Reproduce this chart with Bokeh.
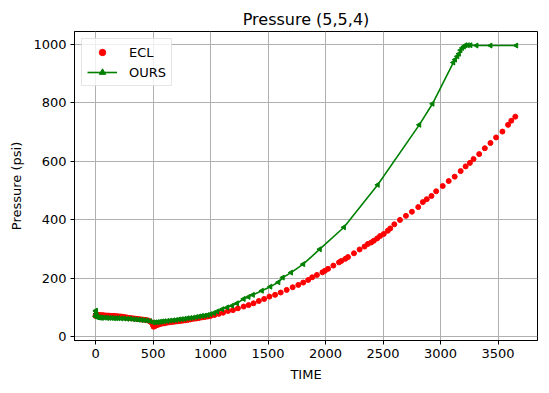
from bokeh.plotting import figure
from bokeh.models import Range1d, FixedTicker, Legend, LegendItem
from bokeh.embed import file_html
from bokeh.resources import INLINE

# ECL (reference simulator) samples
ecl_time = [0, 3, 6, 10, 15, 20, 30, 40, 50, 60, 70, 80, 90, 100, 115, 130, 145, 160, 175, 190,
            205, 220, 235, 250, 265, 280, 300, 320, 340, 360, 380, 400, 420, 440, 460, 475, 490,
            500, 505, 515, 530, 545, 560, 580, 600, 620, 640, 660, 680, 700, 720, 740, 760, 780,
            800, 825, 850, 875, 900, 925, 950, 975,
            1000, 1034, 1072, 1109, 1152, 1195, 1238, 1288, 1331, 1374, 1420, 1466, 1512, 1561,
            1610, 1662, 1714, 1763, 1806, 1849, 1884, 1925, 1973, 1994, 2022, 2068, 2117, 2137,
            2172, 2195, 2247, 2296, 2339, 2368, 2397, 2420, 2449, 2474, 2506, 2541, 2563, 2598,
            2647, 2699, 2751, 2806, 2846, 2880, 2921, 2962, 3019, 3071, 3123, 3175, 3218, 3255,
            3287, 3336, 3385, 3434, 3483, 3538, 3587, 3615, 3650]
ecl_pressure = [72, 76, 77, 76, 75, 75, 75, 74, 74, 74, 74, 73, 73, 73, 73, 72, 72, 72, 71, 71,
                70, 70, 69, 68, 67, 66, 65, 64, 63, 62, 61, 60, 59, 58, 56, 53, 48,
                40, 35, 37, 40, 42, 44, 46, 47, 49, 50, 51, 52, 53, 54, 55, 56, 57,
                58, 60, 62, 63, 65, 67, 68, 70,
                72, 75, 79, 83, 89, 92, 98, 104, 109, 115, 123, 130, 138, 144,
                152, 161, 170, 178, 186, 195, 204, 212, 221, 226, 233, 244, 255, 260,
                267, 273, 286, 299, 309, 318, 323, 329, 337, 345, 352, 363, 371, 385,
                400, 414, 428, 444, 461, 471, 482, 498, 516, 533, 548, 567, 583, 595,
                608, 625, 645, 663, 682, 702, 725, 739, 753]

# OURS samples
ours_time = [0, 2, 4, 6, 8, 10, 15, 20, 30, 40, 50, 60, 80, 100, 120, 140, 160, 180, 200, 225,
             250, 275, 300, 325, 350, 375, 400, 425, 450, 475, 500, 520, 540, 560, 580, 600,
             625, 650, 675, 700, 725, 750, 775, 800, 825, 850, 875, 900, 925, 950, 975, 1000,
             1030, 1057, 1101, 1144, 1187, 1230, 1288, 1330, 1368, 1446, 1520, 1590, 1628, 1700,
             1806, 1950, 2160, 2454, 2815, 2930, 3111, 3126, 3146, 3160, 3174, 3189, 3203, 3217,
             3237, 3260, 3312, 3434, 3658]
ours_pressure = [70, 90, 88, 80, 74, 70, 68, 67, 67, 66, 66, 66, 66, 65, 65, 65, 64, 64, 64, 63,
                 63, 62, 62, 61, 60, 59, 58, 57, 56, 54, 50, 50, 51, 52, 53, 54,
                 55, 56, 57, 58, 60, 61, 62, 64, 65, 66, 68, 70, 72, 73, 75, 78,
                 82, 87, 95, 101, 107, 115, 130, 137, 144, 158, 172, 187, 203, 220,
                 249, 300, 375, 520, 725, 797, 938, 948, 959, 968, 980, 988, 993, 997,
                 997, 997, 996, 996, 996]

x_ticks = [0, 500, 1000, 1500, 2000, 2500, 3000, 3500]
y_ticks = [0, 200, 400, 600, 800, 1000]

FONT = "DejaVu Sans"

p = figure(width=541, height=384, output_backend="svg", toolbar_location=None,
           x_range=Range1d(-183, 3843), y_range=Range1d(-12, 1044),
           min_border_left=74, min_border_right=4, min_border_top=31, min_border_bottom=44,
           title="Pressure (5,5,4)")
p.background_fill_color = "white"
p.border_fill_color = "white"
p.outline_line_color = "black"
p.outline_line_width = 1
p.outline_line_alpha = 1

p.title.align = "center"
p.title.text_font = FONT
p.title.text_font_size = "16px"
p.title.text_font_style = "normal"
p.title.text_color = "black"
p.title.standoff = 6

for ax, ticks, label in ((p.xaxis[0], x_ticks, "TIME"), (p.yaxis[0], y_ticks, "Pressure (psi)")):
    ax.ticker = FixedTicker(ticks=ticks)
    ax.axis_label = label
    ax.axis_label_text_font = FONT
    ax.axis_label_text_font_size = "13px"
    ax.axis_label_text_font_style = "normal"
    ax.axis_label_text_color = "black"
    ax.major_label_text_font = FONT
    ax.major_label_text_font_size = "13px"
    ax.major_label_text_color = "black"
    ax.major_tick_out = 4
    ax.major_tick_in = 0
    ax.minor_tick_out = 0
    ax.minor_tick_in = 0
    ax.axis_line_color = "black"
    ax.major_tick_line_color = "black"
    ax.axis_label_standoff = 6
    ax.major_label_standoff = 4

p.xgrid.ticker = FixedTicker(ticks=x_ticks)
p.ygrid.ticker = FixedTicker(ticks=y_ticks)
p.grid.grid_line_color = "#b0b0b0"
p.grid.grid_line_width = 1

r_ecl = p.scatter(ecl_time, ecl_pressure, size=5, color="red", line_color="red")
r_line = p.line(ours_time, ours_pressure, line_color="green", line_width=1.6)
r_mark = p.scatter(ours_time, ours_pressure, marker="triangle", angle=1.5708, size=5,
                   color="green", line_color="green")

legend = Legend(items=[LegendItem(label="ECL", renderers=[r_ecl]),
                       LegendItem(label="OURS", renderers=[r_line, r_mark])],
                location="top_left")
legend.label_text_font = FONT
legend.label_text_font_size = "13px"
legend.label_text_color = "black"
legend.border_line_color = "#cccccc"
legend.border_line_width = 1
legend.background_fill_alpha = 0.8
legend.margin = 7
legend.padding = 5
legend.spacing = 4
legend.label_height = 16
legend.glyph_height = 16
legend.glyph_width = 30
legend.label_standoff = 12
p.add_layout(legend, "center")

open("out.html", "w").write(file_html(p, INLINE))
